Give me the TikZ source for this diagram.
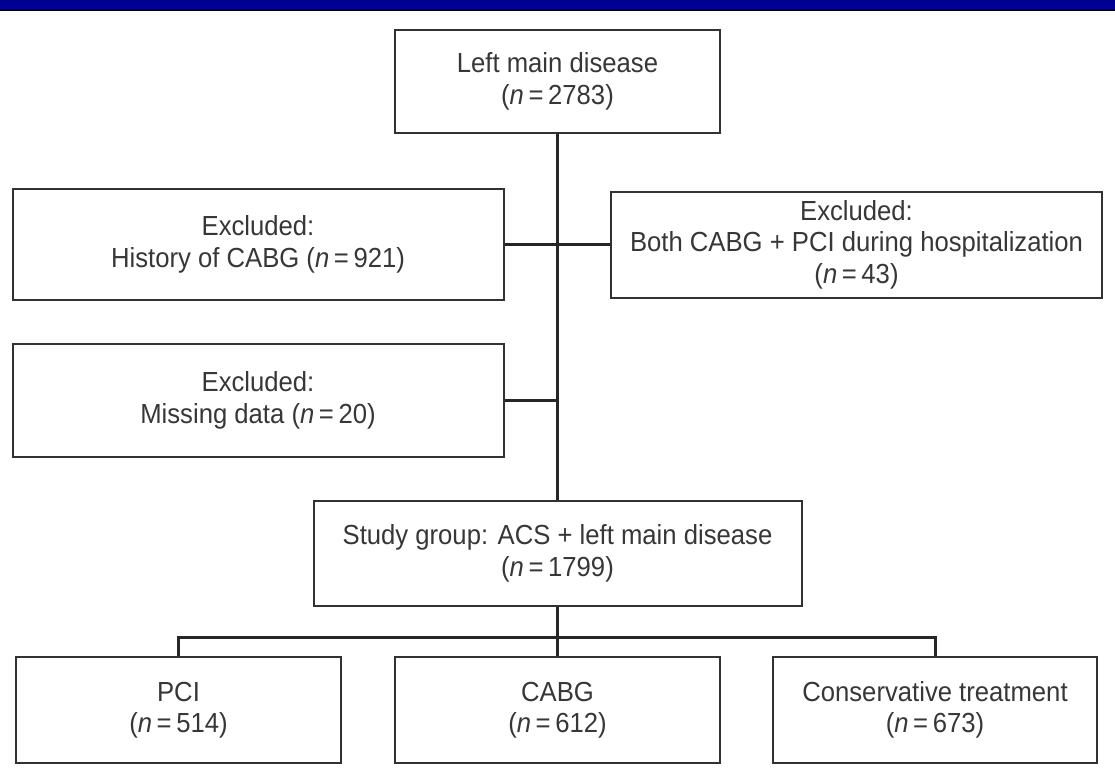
\documentclass[tikz,border=0pt]{standalone}
\usepackage{fontspec}
\setmainfont[FakeStretch=0.93]{Liberation Sans}
\definecolor{band}{RGB}{0,0,145}
\definecolor{txt}{RGB}{55,55,55}
\definecolor{edge}{RGB}{50,50,50}
\tikzset{
  box/.style={draw=edge, line width=2pt, fill=white, align=center, text=txt,
    inner sep=0pt, font=\fontsize{27.6}{31.5}\selectfont},
  link/.style={draw=black!85, line width=3pt}
}
\newcommand{\nn}[1]{(\textit{n}\,=\,#1)}
\begin{document}
\begin{tikzpicture}[x=1pt,y=-1pt]
\useasboundingbox (0,0) rectangle (1115,770);
\fill[white] (0,0) rectangle (1115,770);
\fill[band] (0,0) rectangle (1115,9);
\fill[black] (0,9) rectangle (1115,11.5);

\node[box, minimum width=325pt, minimum height=103pt] (top) at (557.5,81.5) {Left main disease\\\nn{2783}};
\node[box, minimum width=491pt, minimum height=111pt] (ex1) at (258,244.5) {Excluded:\\History of CABG \nn{921}};
\node[box, minimum width=491pt, minimum height=106pt] (ex2) at (856.5,244.5) {Excluded:\\Both CABG + PCI during hospitalization\\\nn{43}};
\node[box, minimum width=491pt, minimum height=113pt] (ex3) at (258,400.5) {Excluded:\\Missing data \nn{20}};
\node[box, minimum width=488pt, minimum height=105pt] (study) at (557.5,553.5) {Study group: ACS + left main disease\\\nn{1799}};
\node[box, minimum width=325pt, minimum height=106pt] (pci) at (178.5,710) {PCI\\\nn{514}};
\node[box, minimum width=325pt, minimum height=106pt] (cabg) at (557.5,710) {CABG\\\nn{612}};
\node[box, minimum width=324pt, minimum height=106pt] (cons) at (935,710) {Conservative treatment\\\nn{673}};

\coordinate (split) at (557.5,637);

\draw[link] (top.south) -- (study.north);
\draw[link] (ex1.east) -- (ex2.west);
\draw[link] (ex3.east) -- (ex3.east -| top.south);
\draw[link] (study.south) -- (split);
\draw[link] (pci.north) |- (split) -| (cons.north);
\draw[link] (split) -- (cabg.north);
\end{tikzpicture}
\end{document}
